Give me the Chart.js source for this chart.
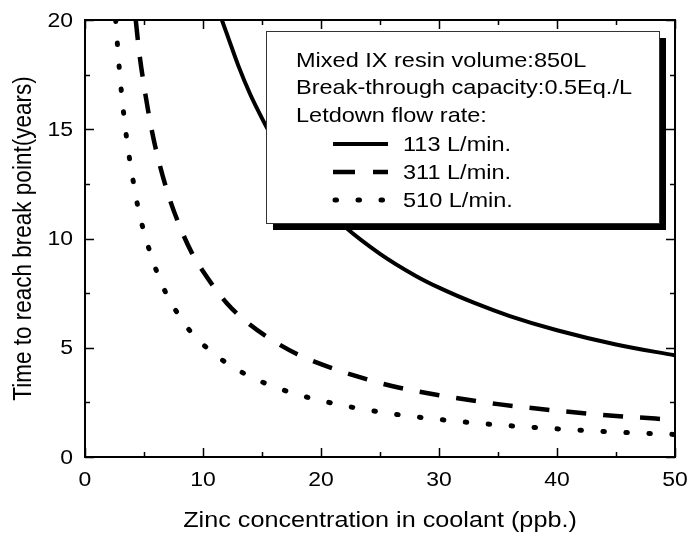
<!DOCTYPE html>
<html>
<head>
<meta charset="utf-8">
<script src="https://cdn.jsdelivr.net/npm/chart.js@4.4.1/dist/chart.umd.min.js"></script>
<style>
  html, body { margin: 0; padding: 0; background: #fff; }
  #wrap { width: 691px; height: 536px; }
</style>
</head>
<body>
<div id="wrap"><canvas id="chart" width="691" height="536"></canvas></div>
<script>
// values
const flow113X = [11.6, 12, 13, 14, 15, 16, 18, 20, 22, 25, 28, 30, 33, 36, 40, 45, 50];
const flow113Y = [20, 19.4, 17.9, 16.6, 15.5, 14.5, 12.9, 11.6, 10.55, 9.3, 8.3, 7.75, 7.05, 6.45, 5.8, 5.15, 4.65];

const flow311X = [4.3, 4.6, 5, 5.5, 6, 7, 8, 9, 10, 12, 14, 16, 18, 20, 23, 26, 30, 35, 40, 45, 50];
const flow311Y = [20, 18.5, 17, 15.4, 14.1, 12.1, 10.6, 9.4, 8.5, 7.05, 6.05, 5.3, 4.7, 4.25, 3.7, 3.25, 2.83, 2.42, 2.12, 1.88, 1.7];

const flow510X = [2.6, 2.8, 3, 3.5, 4, 4.5, 5, 6, 7, 8, 9, 10, 12, 14, 16, 18, 20, 23, 26, 30, 35, 40, 45, 50];
const flow510Y = [20, 18.5, 17.2, 14.7, 12.9, 11.4, 10.3, 8.6, 7.35, 6.45, 5.7, 5.15, 4.3, 3.68, 3.22, 2.86, 2.58, 2.24, 1.98, 1.72, 1.47, 1.29, 1.14, 1.03];

const xTicks = [0, 10, 20, 30, 40, 50];
const yTicks = [0, 5, 10, 15, 20];

const xTitle = 'Zinc concentration in coolant (ppb.)';
const yTitle = 'Time to reach break point(years)';
const legendLines = ['Mixed IX resin volume:850L', 'Break-through capacity:0.5Eq./L', 'Letdown flow rate:'];
const seriesLabels = ['113 L/min.', '311 L/min.', '510 L/min.'];

const FONT = '"Liberation Sans", Arial, sans-serif';
const SX = 1.12; // the original figure's text is a little wide

function toPoints(xs, ys) {
    return xs.map((x, i) => ({ x: x, y: ys[i] }));
}

function wideText(ctx, text, x, y, size, align, baseline) {
    ctx.save();
    ctx.translate(x, y);
    ctx.scale(SX, 1);
    ctx.font = size + 'px ' + FONT;
    ctx.textAlign = align;
    ctx.textBaseline = baseline;
    ctx.fillText(text, 0, 0);
    ctx.restore();
}

const dashes = [[], [20, 17], [1.5, 21.5]];
const widths = [4, 4.5, 5];
const caps = ['butt', 'butt', 'round'];

// frame, inward ticks, labels and the boxed legend
const framePlugin = {
    id: 'frame',
    afterDatasetsDraw(chart) {
        const ctx = chart.ctx;
        const a = chart.chartArea;
        const xs = chart.scales.x, ys = chart.scales.y;
        ctx.save();
        ctx.strokeStyle = '#000';
        ctx.fillStyle = '#000';
        ctx.lineWidth = 2;
        ctx.strokeRect(a.left, a.top, a.right - a.left, a.bottom - a.top);

        ctx.lineWidth = 1.5;
        ctx.beginPath();
        for (let v = 0; v <= 50; v += 5) {
            const len = v % 10 === 0 ? 9 : 5;
            const px = Math.round(xs.getPixelForValue(v)) + 0.5;
            ctx.moveTo(px, a.bottom); ctx.lineTo(px, a.bottom - len);
            ctx.moveTo(px, a.top); ctx.lineTo(px, a.top + len);
        }
        for (let v = 0; v <= 20; v += 2.5) {
            const len = v % 5 === 0 ? 9 : 5;
            const py = Math.round(ys.getPixelForValue(v)) + 0.5;
            ctx.moveTo(a.left, py); ctx.lineTo(a.left + len, py);
            ctx.moveTo(a.right, py); ctx.lineTo(a.right - len, py);
        }
        ctx.stroke();

        // tick labels
        xTicks.forEach(v => wideText(ctx, String(v), xs.getPixelForValue(v), a.bottom + 23, 20.5, 'center', 'middle'));
        yTicks.forEach(v => wideText(ctx, String(v), a.left - 12, ys.getPixelForValue(v) + 1, 20.5, 'right', 'middle'));

        // axis titles
        wideText(ctx, xTitle, (a.left + a.right) / 2, 527, 22.5, 'center', 'alphabetic');
        ctx.save();
        ctx.translate(24, (a.top + a.bottom) / 2);
        ctx.rotate(-Math.PI / 2);
        ctx.scale(1, SX);
        ctx.font = '22.5px ' + FONT;
        ctx.textAlign = 'center';
        ctx.textBaseline = 'middle';
        ctx.fillText(yTitle, 0, 0);
        ctx.restore();

        // legend box with drop shadow
        const bx = 266, by = 31, bw = 393, bh = 192;
        ctx.fillStyle = '#000';
        ctx.fillRect(bx + 7, by + 7, bw, bh);
        ctx.fillStyle = '#fff';
        ctx.fillRect(bx, by, bw, bh);
        ctx.strokeStyle = '#333';
        ctx.lineWidth = 1;
        ctx.strokeRect(bx + 0.5, by + 0.5, bw, bh);

        ctx.fillStyle = '#000';
        const baselines = [67, 94, 122, 151, 179, 207];
        legendLines.forEach((t, i) => wideText(ctx, t, 296, baselines[i], 21, 'left', 'alphabetic'));
        seriesLabels.forEach((t, i) => {
            const b = baselines[i + 3];
            ctx.save();
            ctx.strokeStyle = '#000';
            ctx.lineWidth = widths[i];
            ctx.lineCap = caps[i];
            ctx.setLineDash(i === 1 ? [22, 18] : dashes[i]);
            ctx.beginPath();
            ctx.moveTo(i === 2 ? 335 : 333, b - 7);
            ctx.lineTo(388, b - 7);
            ctx.stroke();
            ctx.restore();
            wideText(ctx, t, 403, b, 21, 'left', 'alphabetic');
        });
        ctx.restore();
    }
};

const datasets = [
    toPoints(flow113X, flow113Y),
    toPoints(flow311X, flow311Y),
    toPoints(flow510X, flow510Y)
].map((pts, i) => ({
    label: seriesLabels[i],
    data: pts,
    borderColor: '#000',
    borderWidth: widths[i],
    borderDash: dashes[i],
    borderCapStyle: caps[i],
    pointRadius: 0,
    fill: false,
    cubicInterpolationMode: 'monotone'
}));

new Chart(document.getElementById('chart'), {
    type: 'line',
    data: { datasets: datasets },
    options: {
        responsive: false,
        animation: false,
        devicePixelRatio: 1,
        layout: { padding: { top: 20, right: 16, left: 0, bottom: 0 } },
        plugins: { legend: { display: false }, tooltip: { enabled: false } },
        scales: {
            x: {
                type: 'linear',
                min: 0, max: 50,
                afterFit(scale) { scale.height = 79; },
                grid: { display: false, drawTicks: false },
                border: { display: false },
                ticks: { display: false }
            },
            y: {
                type: 'linear',
                min: 0, max: 20,
                afterFit(scale) { scale.width = 85; },
                grid: { display: false, drawTicks: false },
                border: { display: false },
                ticks: { display: false }
            }
        }
    },
    plugins: [framePlugin]
});
</script>
</body>
</html>
